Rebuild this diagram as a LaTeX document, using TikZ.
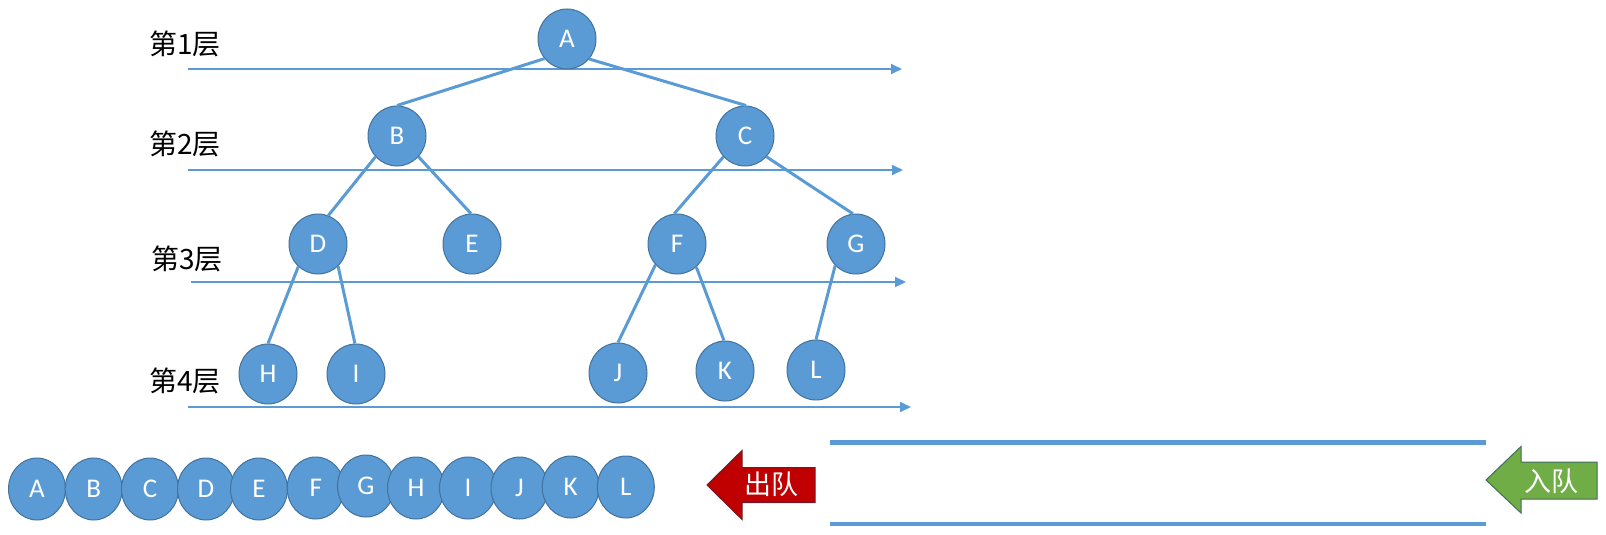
\documentclass[tikz,border=0pt]{standalone}
\usepackage{fontspec}
\setmainfont{Carlito}
\newfontfamily\cjk{Noto Sans CJK SC}
\usetikzlibrary{arrows.meta,shapes.geometric}
\definecolor{nodeblue}{HTML}{5B9BD5}
\definecolor{nodeedge}{HTML}{41719C}
\definecolor{outred}{HTML}{C00000}
\definecolor{outredb}{HTML}{6E1A2A}
\definecolor{ingreen}{HTML}{70AD47}
\definecolor{ingreenb}{HTML}{3F6E5A}
\begin{document}
\begin{tikzpicture}[x=1pt,y=-1pt,
  tnode/.style={ellipse, fill=nodeblue, draw=nodeedge, line width=1pt, minimum width=58pt, minimum height=60pt, inner sep=0pt, text=white, font=\fontsize{27}{27}\selectfont},
  qnode/.style={tnode, minimum width=57pt, minimum height=62pt},
  treeedge/.style={draw=nodeblue, line width=3pt},
  layerline/.style={draw=nodeblue, line width=1.8pt, -{Triangle[length=11pt,width=10pt]}},
  lvl/.style={font=\cjk\fontsize{28}{28}\selectfont, text=black, inner sep=0pt},
  qline/.style={draw=nodeblue, line width=4.5pt},
  arrtext/.style={font=\cjk\fontsize{27}{27}\selectfont, text=white, inner sep=0pt},
]
\useasboundingbox (0,0) rectangle (1606,535);

% layer lines
\coordinate (l1s) at (188,69);  \coordinate (l1e) at (902,69);
\coordinate (l2s) at (188,170); \coordinate (l2e) at (903,170);
\coordinate (l3s) at (191,282); \coordinate (l3e) at (906,282);
\coordinate (l4s) at (188,407); \coordinate (l4e) at (911,407);
\draw[layerline] (l1s) -- (l1e);
\draw[layerline] (l2s) -- (l2e);
\draw[layerline] (l3s) -- (l3e);
\draw[layerline] (l4s) -- (l4e);

% layer labels
\node[lvl] (t1) at (185,44)  {第1层};
\node[lvl] (t2) at (185,144) {第2层};
\node[lvl] (t3) at (187,259) {第3层};
\node[lvl] (t4) at (185,381) {第4层};

% tree nodes
\node[tnode] (A) at (567,39)  {A};
\node[tnode] (B) at (397,136) {B};
\node[tnode] (C) at (745,136) {C};
\node[tnode] (D) at (318,244) {D};
\node[tnode] (E) at (472,244) {E};
\node[tnode] (F) at (677,244) {F};
\node[tnode] (G) at (856,244) {G};
\node[tnode] (H) at (268,374) {H};
\node[tnode] (I) at (356,374) {I};
\node[tnode] (J) at (618,373) {J};
\node[tnode] (K) at (725,371) {K};
\node[tnode] (L) at (816,370) {L};

% tree edges
\draw[treeedge] (A.-139) -- (B.90);
\draw[treeedge] (A.-42)  -- (C.88);
\draw[treeedge] (B.-136) -- (D.70);
\draw[treeedge] (B.-44)  -- (E.92);
\draw[treeedge] (C.-136) -- (F.95);
\draw[treeedge] (C.-44)  -- (G.96);
\draw[treeedge] (D.-131) -- (H.90);
\draw[treeedge] (D.-48)  -- (I.92);
\draw[treeedge] (F.-136) -- (J.90);
\draw[treeedge] (F.-50)  -- (K.92);
\draw[treeedge] (G.-134) -- (L.90);

% queue output sequence
\node[qnode] (qA) at (37,489)    {A};
\node[qnode] (qB) at (93.7,489)  {B};
\node[qnode] (qC) at (150,489)   {C};
\node[qnode] (qD) at (206,489)   {D};
\node[qnode] (qE) at (259,489)   {E};
\node[qnode] (qF) at (315.7,488) {F};
\node[qnode] (qG) at (366,486)   {G};
\node[qnode] (qH) at (416,488)   {H};
\node[qnode] (qI) at (468,488)   {I};
\node[qnode] (qJ) at (519.5,488) {J};
\node[qnode] (qK) at (570.7,487) {K};
\node[qnode] (qL) at (625.8,487) {L};

% queue lines
\coordinate (qt1) at (830,442.5);  \coordinate (qt2) at (1486,442.5);
\coordinate (qb1) at (830,524);    \coordinate (qb2) at (1486,524);
\draw[qline] (qt1) -- (qt2);
\draw[qline] (qb1) -- (qb2);

% dequeue arrow
\filldraw[fill=outred, draw=outredb, line width=1pt]
  (707,485) -- (742,450.5) -- (742,467.5) -- (815,467.5) -- (815,502.5)
  -- (742,502.5) -- (742,519.5) -- cycle;
\node[arrtext] (out) at (771,484) {出队};

% enqueue arrow
\filldraw[fill=ingreen, draw=ingreenb, line width=1pt]
  (1486,480) -- (1521,446.5) -- (1521,462) -- (1597,462) -- (1597,499)
  -- (1521,499) -- (1521,513) -- cycle;
\node[arrtext] (in) at (1551,481) {入队};
\end{tikzpicture}
\end{document}
